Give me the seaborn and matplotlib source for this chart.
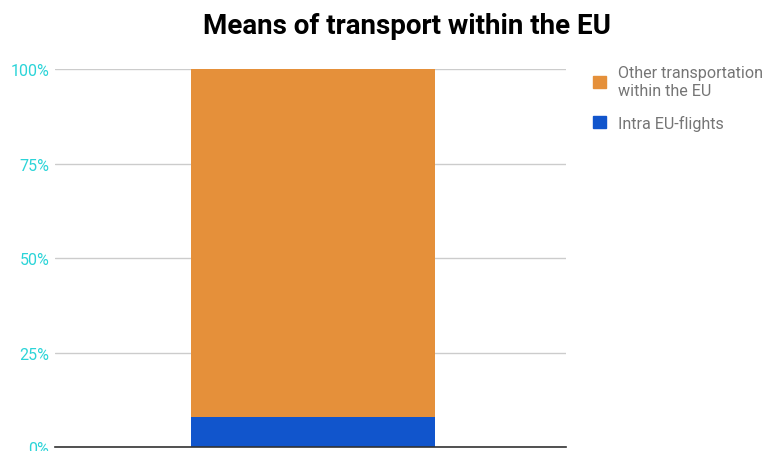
import matplotlib
matplotlib.use("Agg")
import matplotlib.pyplot as plt
import matplotlib.patches as mpatches
import seaborn as sns
import pandas as pd

categories = ["EU"]
intra_eu_flights = [8]
other_transport = [92]
series_labels = ["Other transportation\nwithin the EU", "Intra EU-flights"]
colors = ["#e5903a", "#1155cc"]

sns.set_theme(style="white")
plt.rcParams["font.family"] = ["Roboto", "DejaVu Sans"]

df = pd.DataFrame({
    "cat": categories,
    "flights": intra_eu_flights,
    "total": [a + b for a, b in zip(intra_eu_flights, other_transport)],
})

fig = plt.figure(figsize=(7.76, 4.52), dpi=100)
ax = fig.add_axes([0.0709, 0.0088, 0.6585, 0.8363])

sns.barplot(data=df, x="cat", y="total", color=colors[0], width=0.477, ax=ax,
            saturation=1, linewidth=0)
sns.barplot(data=df, x="cat", y="flights", color=colors[1], width=0.477, ax=ax,
            saturation=1, linewidth=0)

ax.set_ylim(0, 100)
ax.set_xlim(-0.505, 0.495)
ax.set_yticks([0, 25, 50, 75, 100])
ax.set_yticklabels(["0%", "25%", "50%", "75%", "100%"])
ax.tick_params(axis="y", colors="#2bd4d8", labelsize=11.5, length=0, pad=4)
ax.set_xticks([])
ax.set_xlabel("")
ax.set_ylabel("")
ax.yaxis.grid(True, color="#cccccc", linewidth=1)
ax.set_axisbelow(True)
for s in ["top", "right", "left"]:
    ax.spines[s].set_visible(False)
ax.spines["bottom"].set_color("#333333")
ax.spines["bottom"].set_linewidth(1.2)
for lbl in ax.get_yticklabels():
    lbl.set_color("#2bd4d8")

fig.suptitle("Means of transport within the EU", x=0.525, y=0.972,
             fontsize=20, fontweight="bold", color="black")

handles = [mpatches.Patch(color=c, label=l) for c, l in zip(colors, series_labels)]
leg = fig.legend(handles=handles, loc="upper left", bbox_to_anchor=(0.746, 0.885),
                 frameon=False, fontsize=11.6, handlelength=0.8, handleheight=0.8,
                 handletextpad=0.75, labelspacing=1.05)
for t in leg.get_texts():
    t.set_color("#757575")

fig.savefig("out.png", dpi=100)
